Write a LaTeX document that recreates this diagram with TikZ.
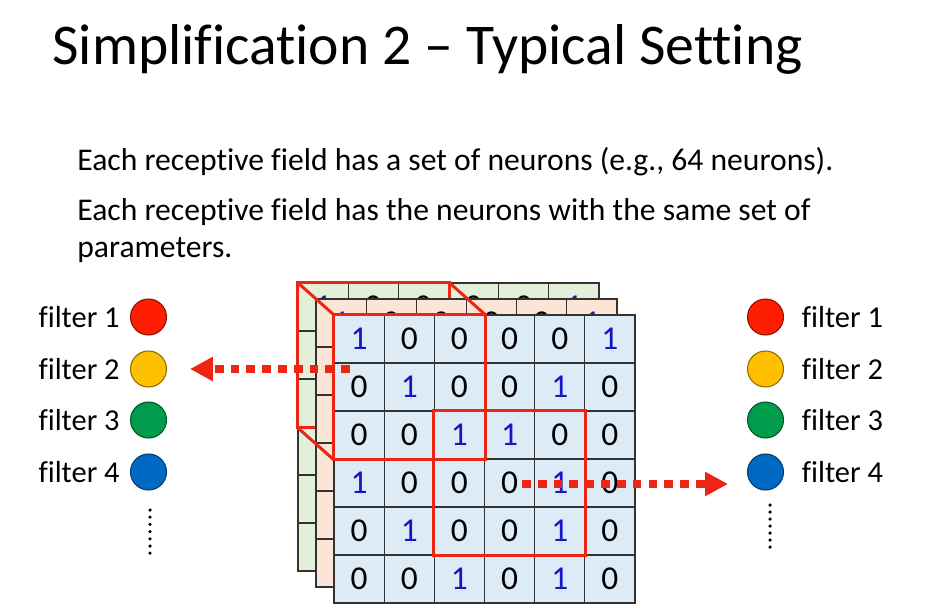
\documentclass[tikz,border=0pt]{standalone}
\usepackage{fontspec}
\setmainfont{Carlito}[Ligatures={TeX,NoCommon}]
\usepackage{tikz}
\usetikzlibrary{arrows.meta, positioning}
\definecolor{BoxRed}{RGB}{238, 36, 20}
\definecolor{DigitBlue}{RGB}{20, 20, 200}
\definecolor{GridBlue}{RGB}{221, 235, 247}
\definecolor{GridOrange}{RGB}{251, 229, 214}
\definecolor{GridGreen}{RGB}{226, 240, 217}
\definecolor{FRed}{RGB}{255, 30, 0}
\definecolor{FYellow}{RGB}{255, 192, 0}
\definecolor{FGreen}{RGB}{0, 155, 75}
\definecolor{FBlue}{RGB}{0, 105, 195}

\begin{document}
\begin{tikzpicture}[
    x=0.02cm, y=-0.02cm,
    cell/.style={rectangle, minimum width=1.0034cm, minimum height=0.96cm, inner sep=0pt,
        draw=black!80, line width=0.6pt, font=\fontsize{19}{21}\selectfont},
    d0/.style={text=black},
    d1/.style={text=DigitBlue},
    redbox/.style={draw=BoxRed, line width=1.7pt},
    flow/.style={draw=BoxRed, line width=4pt, dash pattern=on 5pt off 4pt,
        -{Triangle[length=13pt, width=13pt]}},
    fdot/.style={circle, minimum size=0.72cm, inner sep=0pt, draw=#1!55!black,
        line width=0.6pt, fill=#1},
    flabel/.style={inner sep=0pt, font=\fontsize{17.3}{20}\selectfont},
    body/.style={anchor=base west, inner sep=0pt, font=\fontsize{18}{21}\selectfont}
]
\useasboundingbox[fill=white] (0,0) rectangle (932,608);

% Title and text
\node[anchor=base west, inner sep=0pt, font=\fontsize{32.8}{40}\selectfont] (title) at (52,65)
    {Simplification 2 – Typical Setting};
\node[body] (line1) at (77,170) {Each receptive field has a set of neurons (e.g., 64 neurons).};
\node[body] (line2) at (77,220) {Each receptive field has the neurons with the same set of};
\node[body] (line3) at (77,257) {parameters.};

% Stacked grids (2 = back, 0 = front)
\foreach \l/\tint in {2/GridGreen, 1/GridOrange, 0/GridBlue} {
    \foreach \r/\vals in {0/{1,0,0,0,0,1}, 1/{0,1,0,0,1,0}, 2/{0,0,1,1,0,0},
                          3/{1,0,0,0,1,0}, 4/{0,1,0,0,1,0}, 5/{0,0,1,0,1,0}} {
        \foreach \v [count=\c from 0] in \vals {
            \node[cell, fill=\tint, d\v] (g\l-\r-\c)
                at ({334+50.17*(\c+0.5)-18*\l}, {315+48*(\r+0.5)-16*\l}) {\v};
        }
    }
    \ifnum\l=2
        \draw[redbox] (g2-0-0.north west) rectangle (g2-2-2.south east);
    \fi
}

% Receptive fields
\draw[redbox] (g0-0-0.north west) rectangle (g0-2-2.south east);
\draw[redbox] (g2-0-0.north west) -- (g0-0-0.north west)
              (g2-0-2.north east) -- (g0-0-2.north east)
              (g2-2-0.south west) -- (g0-2-0.south west);
\draw[redbox] (g0-2-2.north west) rectangle (g0-4-4.south east);

% Filters, left
\node[fdot=FRed] (l1) at (148.5,317) {};
\node[fdot=FYellow] (l2) at (148.5,369) {};
\node[fdot=FGreen] (l3) at (148.5,420) {};
\node[fdot=FBlue] (l4) at (148.5,472) {};
\foreach \k in {1,...,4}
    \node[flabel, left=0.2cm of l\k] (ll\k) {filter \k};
\foreach \k in {0,...,6}
    \fill (150,{510+7.2*\k}) circle (1pt);

% Filters, right
\node[fdot=FRed] (r1) at (765.5,317) {};
\node[fdot=FYellow] (r2) at (765.5,369) {};
\node[fdot=FGreen] (r3) at (765.5,420) {};
\node[fdot=FBlue] (r4) at (765.5,472) {};
\foreach \k in {1,...,4}
    \node[flabel, right=0.35cm of r\k] (rl\k) {filter \k};
\foreach \k in {0,...,6}
    \fill (770,{505+7*\k}) circle (1pt);

% Arrows
\coordinate (lsrc) at (350,369);
\coordinate (ltip) at (190,369);
\coordinate (rsrc) at (522,484);
\coordinate (rtip) at (728,484);
\draw[flow] (lsrc) -- (ltip);
\draw[flow] (rsrc) -- (rtip);

\end{tikzpicture}
\end{document}
